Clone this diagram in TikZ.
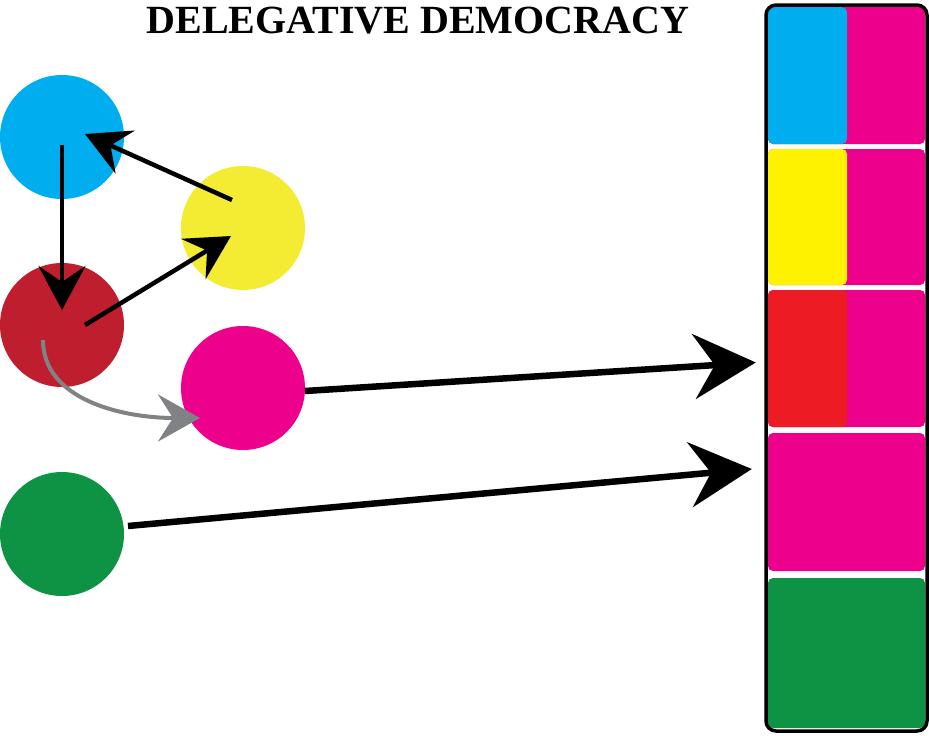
\documentclass[tikz,border=0pt]{standalone}
\usepackage{fontspec}
\setmainfont{Liberation Serif}
\usepackage{tikz}
\usetikzlibrary{arrows.meta, calc}
\definecolor{vblue}{HTML}{00AEEF}
\definecolor{vyellow}{HTML}{F3EC33}
\definecolor{boxyellow}{HTML}{FFF200}
\definecolor{vdarkred}{HTML}{BE1E2D}
\definecolor{boxred}{HTML}{ED1C24}
\definecolor{vmagenta}{HTML}{EC008C}
\definecolor{vgreen}{HTML}{0E9344}
\definecolor{delegray}{HTML}{808285}

\tikzset{
    voter/.style={circle, inner sep=0pt, minimum size=124pt, fill=#1},
    cell/.style={rectangle, rounded corners=5pt, inner sep=0pt, fill=#1},
    delegate/.style={line width=4.5pt, -{Stealth[length=44pt, width=47pt, inset=16pt]}},
    vote/.style={line width=6.5pt, -{Stealth[length=62pt, width=65pt, inset=21pt]}}
}

\begin{document}
\begin{tikzpicture}[x=1pt, y=-1pt]
    \useasboundingbox (0,0) rectangle (929,736);

    % title
    \node[font=\fontsize{40}{44}\selectfont\bfseries] (title) at (418,21) {DELEGATIVE DEMOCRACY};

    % voters
    \node[voter=vblue]    (blue)    at (62,137)  {};
    \node[voter=vyellow]  (yellow)  at (243,228) {};
    \node[voter=vdarkred] (red)     at (62,325)  {};
    \node[voter=vmagenta] (magenta) at (243,388) {};
    \node[voter=vgreen]   (green)   at (62,534)  {};

    % ballot column
    \node[cell=vmagenta, minimum width=157pt, minimum height=137pt] (row1) at (846.5,75.5) {};
    \node[cell=vblue, minimum width=79pt, minimum height=137pt] (row1l) at (807.5,75.5) {};
    \node[cell=vmagenta, minimum width=157pt, minimum height=136pt] (row2) at (846.5,217) {};
    \node[cell=boxyellow, minimum width=79pt, minimum height=136pt] (row2l) at (807.5,217) {};
    \node[cell=vmagenta, minimum width=157pt, minimum height=137pt] (row3) at (846.5,358.5) {};
    \node[cell=boxred, minimum width=79pt, minimum height=137pt] (row3l) at (807.5,358.5) {};
    \node[cell=vmagenta, minimum width=157pt, minimum height=138pt] (row4) at (846.5,502) {};
    \node[cell=vgreen, minimum width=157pt, minimum height=150pt] (row5) at (846.5,653) {};
    \draw[line width=3.5pt, rounded corners=10pt] (766,5) rectangle (927,731);

    % delegations
    \draw[delegate] (blue.center) ++(0,8) -- ($(red.center)+(0,-15)$);
    \draw[delegate] ($(red.center)+(23,0)$) -- ($(yellow.center)+(-12,8)$);
    \draw[delegate] ($(yellow.center)+(-11,-28)$) -- ($(blue.center)+(23,-3)$);
    \draw[delegray, line width=4pt, -{Stealth[length=42pt, width=47pt, inset=15pt]}]
        ($(red.center)+(-19,15)$) .. controls ($(red.center)+(-19,75)$) and ($(magenta.center)+(-120,30)$) .. ($(magenta.center)+(-43,30)$);

    % votes
    \draw[vote] ($(magenta.center)+(62,3)$) -- ($(row3.west)+(-12,4)$);
    \draw[vote] ($(green.center)+(66,-8)$) -- ($(row4.west)+(-16,-33)$);
\end{tikzpicture}
\end{document}
